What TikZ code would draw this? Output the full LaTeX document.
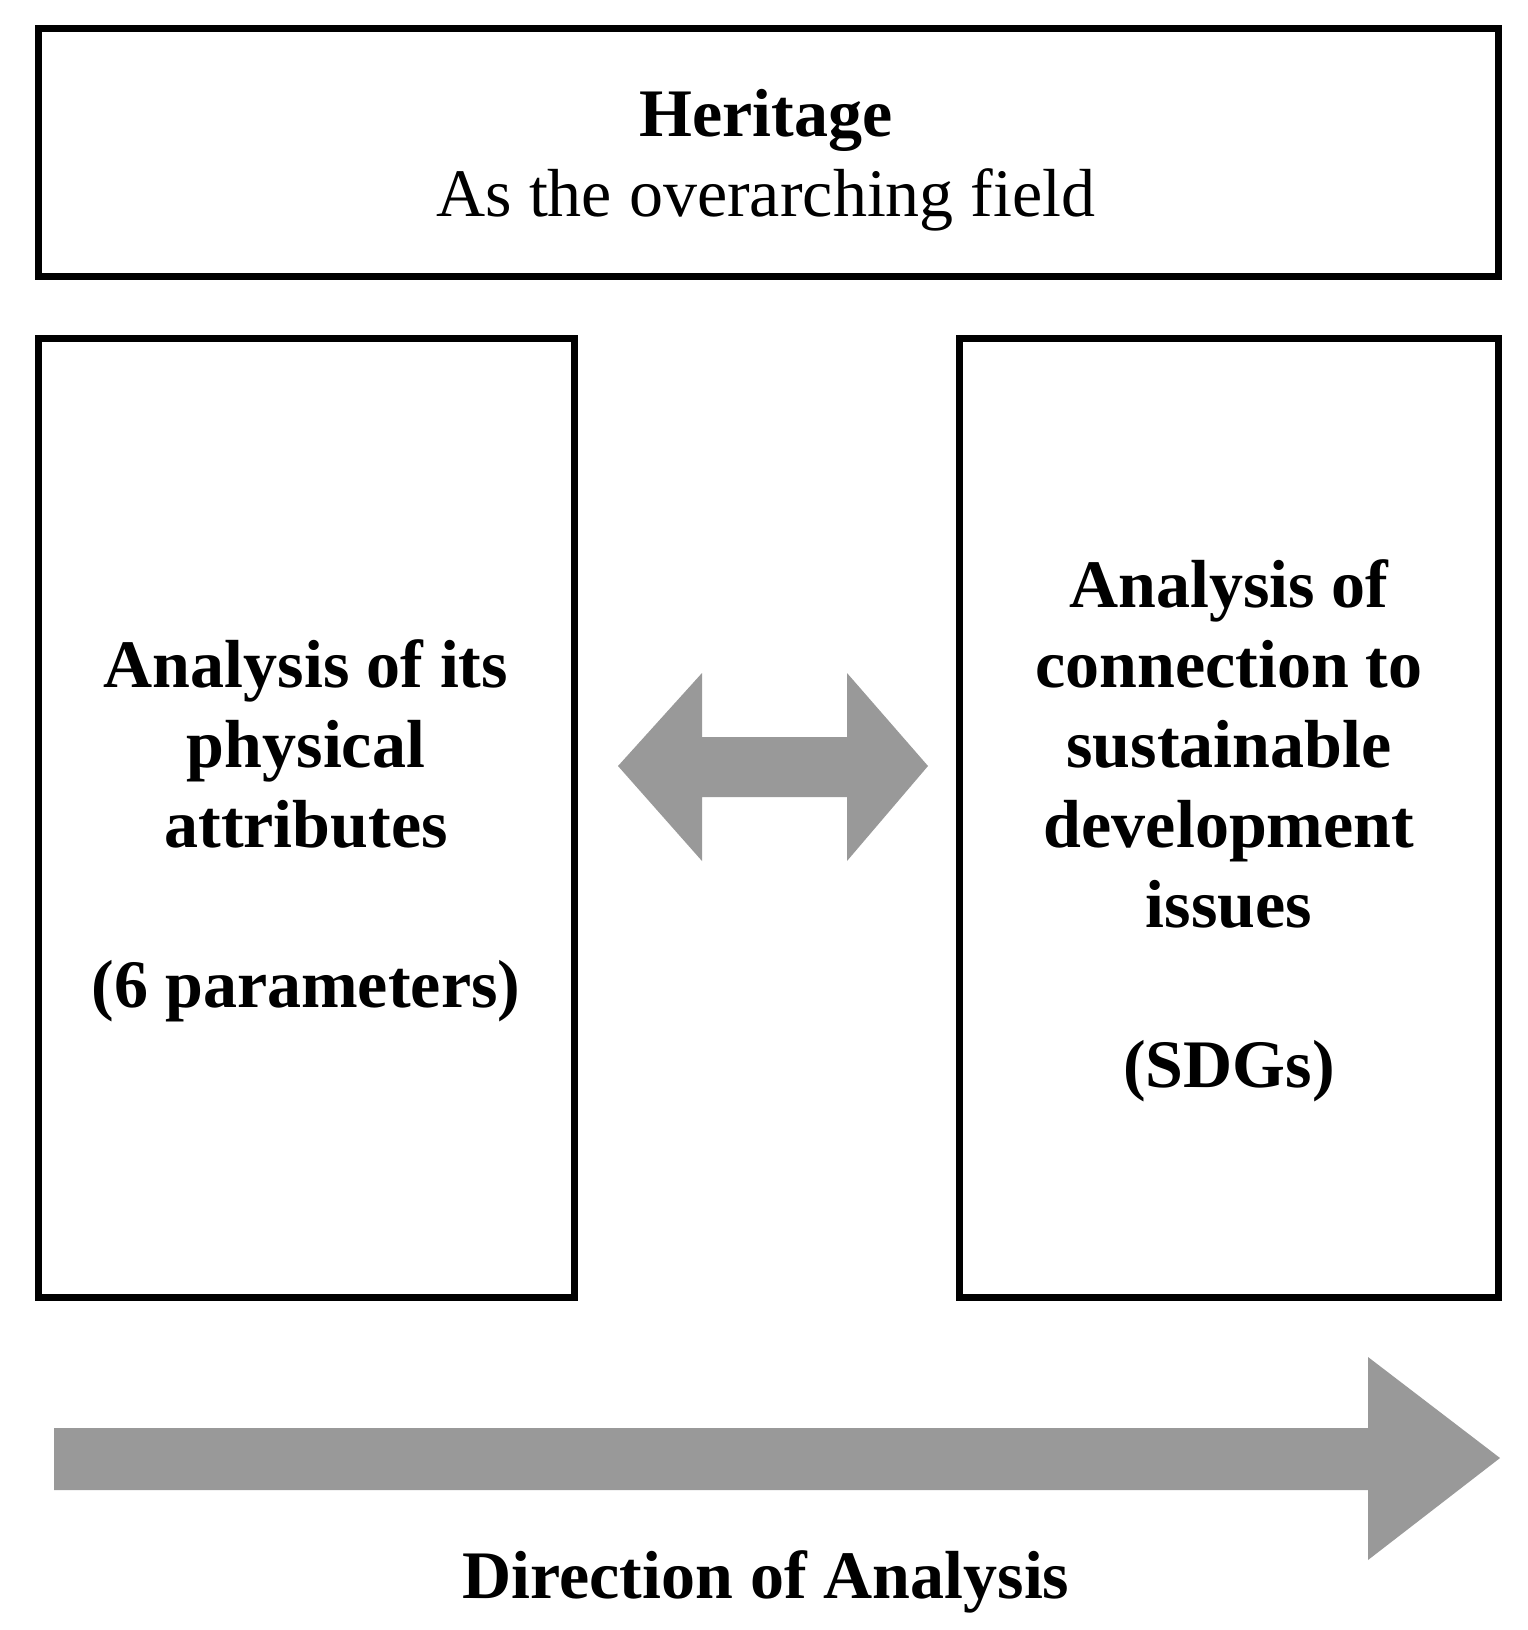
\documentclass[tikz,border=0pt]{standalone}
\usepackage{fontspec}
\setmainfont{Liberation Serif}
\begin{document}
\begin{tikzpicture}[x=1pt,y=-1pt,
  box/.style={draw=black,line width=7pt,fill=white},
  txt/.style={align=center,font=\fontsize{68}{80}\selectfont\bfseries},
  garrow/.style={fill=black!40,draw=none}]
\useasboundingbox (0,0) rectangle (1528,1630);
\fill[white] (0,0) rectangle (1528,1630);
\draw[box] (38,28) rectangle (1498,276);
\node[align=center,font=\fontsize{68}{80}\selectfont] (her) at (766,160) {\textbf{Heritage}\\As the overarching field};
\draw[box] (38,338) rectangle (574,1297);
\draw[box] (959,338) rectangle (1498,1297);
\node[txt] (l) at (306,831) {Analysis of its\\physical\\attributes\\[80pt](6 parameters)};
\node[txt] (r) at (1229,831) {Analysis of\\connection to\\sustainable\\development\\issues\\[80pt](SDGs)};
\fill[garrow] (618,766) -- (702,673) -- (702,737) -- (847,737) -- (847,673) -- (928,766) -- (847,861) -- (847,797) -- (702,797) -- (702,861) -- cycle;
\fill[garrow] (54,1428) -- (1368,1428) -- (1368,1357) -- (1500,1458) -- (1368,1560) -- (1368,1490) -- (54,1490) -- cycle;
\node[txt] (dir) at (766,1582) {Direction of Analysis};
\end{tikzpicture}
\end{document}
